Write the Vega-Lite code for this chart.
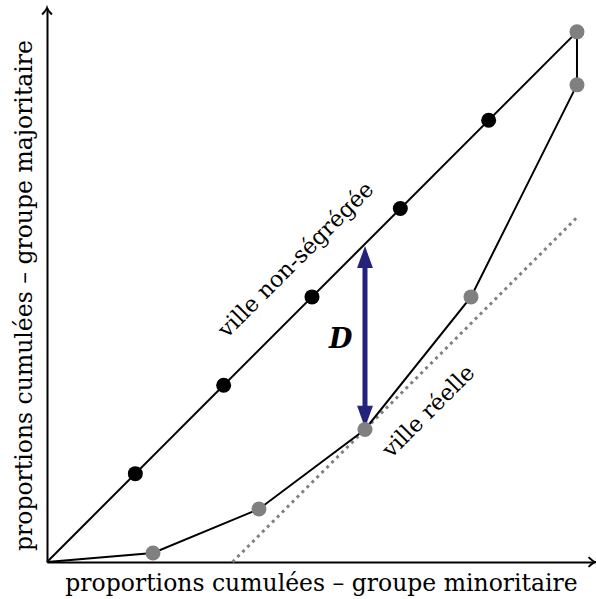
{
  "$schema": "https://vega.github.io/schema/vega-lite/v6.json",
  "width": 548,
  "height": 554,
  "autosize": "none",
  "padding": {"left": 47, "top": 8, "right": 1, "bottom": 37},
  "config": {"view": {"stroke": null}, "font": "DejaVu Serif"},
  "encoding": {
    "x": {
      "field": "x", "type": "quantitative",
      "scale": {"domain": [0, 1.034], "nice": false, "zero": false},
      "axis": {"domain": true, "domainColor": "black", "domainWidth": 2, "ticks": false, "labels": false, "grid": false,
        "title": "proportions cumulées – groupe minoritaire", "titleFontSize": 23.5, "titleFontWeight": "normal", "titleColor": "black", "titlePadding": 9}
    },
    "y": {
      "field": "y", "type": "quantitative",
      "scale": {"domain": [0, 1.045], "nice": false, "zero": false},
      "axis": {"domain": true, "domainColor": "black", "domainWidth": 2, "ticks": false, "labels": false, "grid": false,
        "title": "proportions cumulées – groupe majoritaire", "titleFontSize": 23.5, "titleFontWeight": "normal", "titleColor": "black", "titlePadding": 11, "titleY": 287}
    }
  },
  "layer": [
    {
      "data": {"values": [{"x": 0.35, "y": 0}, {"x": 1, "y": 0.65}]},
      "mark": {"type": "line", "stroke": "#808080", "strokeWidth": 3, "strokeDash": [3, 4]}
    },
    {
      "data": {"values": [{"x": 0, "y": 0}, {"x": 1, "y": 1}]},
      "mark": {"type": "line", "stroke": "black", "strokeWidth": 2}
    },
    {
      "data": {"values": [
        {"x": 0, "y": 0, "o": 0}, {"x": 0.2, "y": 0.017, "o": 1}, {"x": 0.4, "y": 0.1, "o": 2},
        {"x": 0.6, "y": 0.25, "o": 3}, {"x": 0.8, "y": 0.5, "o": 4}, {"x": 1, "y": 0.9, "o": 5}, {"x": 1, "y": 1, "o": 6}
      ]},
      "mark": {"type": "line", "stroke": "black", "strokeWidth": 2},
      "encoding": {"order": {"field": "o", "type": "quantitative"}}
    },
    {
      "data": {"values": [{"x": 0.6, "y": 0.57, "y2": 0.28}]},
      "mark": {"type": "rule", "stroke": "#23237d", "strokeWidth": 5},
      "encoding": {"y2": {"field": "y2"}}
    },
    {
      "data": {"values": [{"x": 0.6, "y": 0.596}]},
      "mark": {"type": "point", "shape": "M0,0 L0.36,1 L-0.36,1 Z", "size": 1936, "filled": true, "fill": "#23237d", "opacity": 1, "strokeWidth": 0}
    },
    {
      "data": {"values": [{"x": 0.6, "y": 0.253}]},
      "mark": {"type": "point", "shape": "M0,0 L0.36,-1 L-0.36,-1 Z", "size": 1936, "filled": true, "fill": "#23237d", "opacity": 1, "strokeWidth": 0}
    },
    {
      "data": {"values": [
        {"x": 0.16667, "y": 0.16667}, {"x": 0.33333, "y": 0.33333}, {"x": 0.5, "y": 0.5},
        {"x": 0.66667, "y": 0.66667}, {"x": 0.83333, "y": 0.83333}
      ]},
      "mark": {"type": "circle", "size": 225, "fill": "black", "opacity": 1}
    },
    {
      "data": {"values": [
        {"x": 0.2, "y": 0.017}, {"x": 0.4, "y": 0.1}, {"x": 0.6, "y": 0.25},
        {"x": 0.8, "y": 0.5}, {"x": 1, "y": 0.9}, {"x": 1, "y": 1}
      ]},
      "mark": {"type": "circle", "size": 225, "fill": "#808080", "opacity": 1}
    },
    {
      "data": {"values": [{"x": 1.034, "y": 0}]},
      "mark": {"type": "point", "shape": "M-1,-0.75 Q-0.3,-0.1 0,0 Q-0.3,0.1 -1,0.75", "size": 169, "filled": false, "stroke": "black", "strokeWidth": 2, "opacity": 1}
    },
    {
      "data": {"values": [{"x": 0, "y": 1.045}]},
      "mark": {"type": "point", "shape": "M-0.75,1 Q-0.1,0.3 0,0 Q0.1,0.3 0.75,1", "size": 169, "filled": false, "stroke": "black", "strokeWidth": 2, "opacity": 1}
    },
    {
      "data": {"values": [{"x": 0.47, "y": 0.57, "t": "ville non-ségrégée"}]},
      "mark": {"type": "text", "angle": 315, "fontSize": 22.5, "align": "center", "baseline": "middle", "color": "black"},
      "encoding": {"text": {"field": "t"}}
    },
    {
      "data": {"values": [{"x": 0.72, "y": 0.284, "t": "ville réelle"}]},
      "mark": {"type": "text", "angle": 315, "fontSize": 22.5, "align": "center", "baseline": "middle", "color": "black"},
      "encoding": {"text": {"field": "t"}}
    },
    {
      "data": {"values": [{"x": 0.554, "y": 0.418, "t": "D"}]},
      "mark": {"type": "text", "fontSize": 27, "fontWeight": "bold", "fontStyle": "italic", "align": "center", "baseline": "middle", "color": "black"},
      "encoding": {"text": {"field": "t"}}
    }
  ]
}
